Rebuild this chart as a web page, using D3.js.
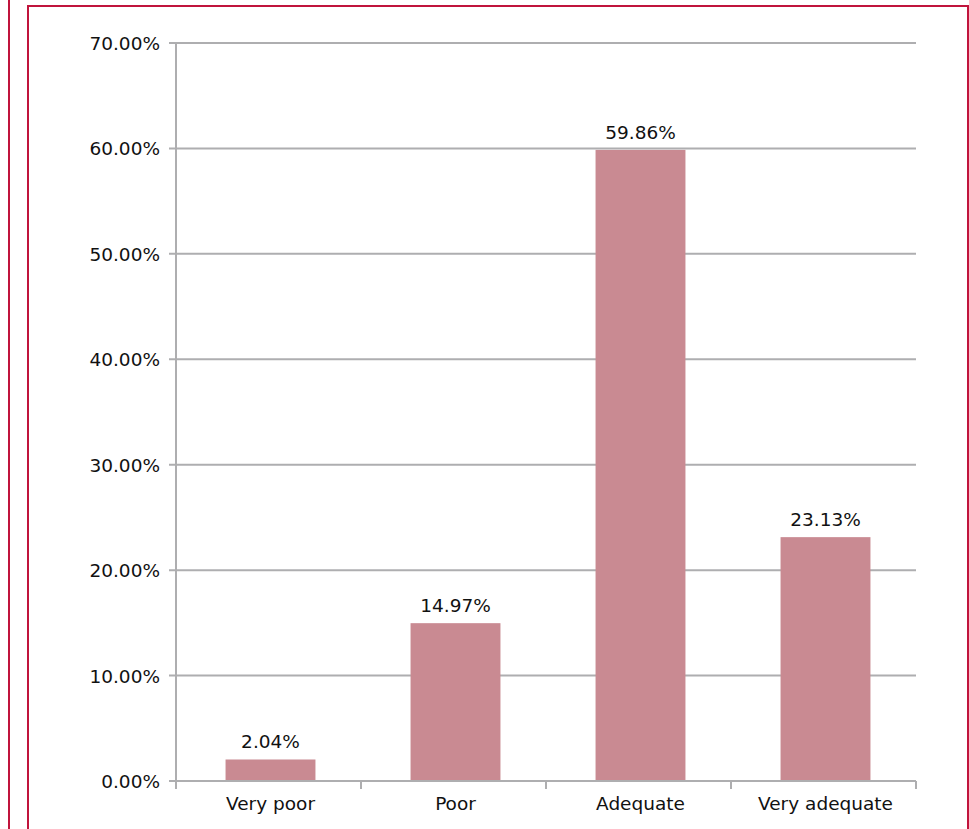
<!DOCTYPE html>
<html>
<head>
<meta charset="utf-8">
<script src="https://cdn.jsdelivr.net/npm/d3@7"></script>
<style>
  body { margin: 0; background: #fff; }
  svg { display: block; font-family: "DejaVu Sans", sans-serif; }
</style>
</head>
<body>
<div id="chart"></div>
<script>
// Data
const categories = ["Very poor", "Poor", "Adequate", "Very adequate"];
const values = [2.04, 14.97, 59.86, 23.13];
const yTicks = [0, 10, 20, 30, 40, 50, 60, 70];

const W = 969, H = 829;
const plot = { left: 176, right: 916, top: 43, bottom: 781 };
const fontSize = 18.5;

const svg = d3.select("#chart").append("svg")
    .attr("width", W)
    .attr("height", H);

// frame lines
svg.append("line").attr("x1", 9).attr("x2", 9).attr("y1", 0).attr("y2", H)
    .attr("stroke", "#c0143c").attr("stroke-width", 2);
svg.append("path")
    .attr("d", `M28,${H} L28,6 L968,6 L968,${H}`)
    .attr("fill", "none").attr("stroke", "#c0143c").attr("stroke-width", 2);

// Scales
const x = d3.scaleBand().domain(categories).range([plot.left + 2, plot.right + 2])
    .paddingInner(0.514).paddingOuter(0.257);
const xOuter = d3.scaleBand().domain(categories).range([plot.left, plot.right]);
const y = d3.scaleLinear().domain([0, 70]).range([plot.bottom, plot.top]);

// gridlines
svg.append("g")
    .selectAll("line")
    .data(yTicks)
    .join("line")
    .attr("x1", plot.left - 7).attr("x2", plot.right)
    .attr("y1", d => y(d)).attr("y2", d => y(d))
    .attr("stroke", "#aeaeb0").attr("stroke-width", 2);

// y axis line
svg.append("line")
    .attr("x1", plot.left).attr("x2", plot.left)
    .attr("y1", plot.top).attr("y2", plot.bottom + 7)
    .attr("stroke", "#aeaeb0").attr("stroke-width", 2);

// y tick labels
svg.append("g")
    .selectAll("text")
    .data(yTicks)
    .join("text")
    .attr("x", plot.left - 16)
    .attr("y", d => y(d) + 7)
    .attr("text-anchor", "end")
    .attr("font-size", fontSize)
    .attr("fill", "#111")
    .text(d => d.toFixed(2) + "%");

// bars
svg.append("g")
    .selectAll("rect")
    .data(values)
    .join("rect")
    .attr("x", (d, i) => x(categories[i]))
    .attr("width", x.bandwidth())
    .attr("y", d => y(d))
    .attr("height", d => y(0) - y(d))
    .attr("fill", "#c98a92");

// x axis
svg.append("line")
    .attr("x1", plot.left).attr("x2", plot.right)
    .attr("y1", plot.bottom).attr("y2", plot.bottom)
    .attr("stroke", "#aeaeb0").attr("stroke-width", 2);
const xTickPos = categories.map(c => xOuter(c)).concat([plot.right]);
svg.append("g")
    .selectAll("line")
    .data(xTickPos)
    .join("line")
    .attr("x1", d => d).attr("x2", d => d)
    .attr("y1", plot.bottom).attr("y2", plot.bottom + 8)
    .attr("stroke", "#aeaeb0").attr("stroke-width", 2);

svg.append("g")
    .selectAll("text")
    .data(categories)
    .join("text")
    .attr("x", d => xOuter(d) + xOuter.bandwidth() / 2 + 2)
    .attr("y", plot.bottom + 29)
    .attr("text-anchor", "middle")
    .attr("font-size", fontSize)
    .attr("fill", "#111")
    .text(d => d);

// value labels
svg.append("g")
    .selectAll("text")
    .data(values)
    .join("text")
    .attr("x", (d, i) => x(categories[i]) + x.bandwidth() / 2)
    .attr("y", d => y(d) - 11)
    .attr("text-anchor", "middle")
    .attr("font-size", fontSize)
    .attr("fill", "#111")
    .text(d => d.toFixed(2) + "%");
</script>
</body>
</html>
